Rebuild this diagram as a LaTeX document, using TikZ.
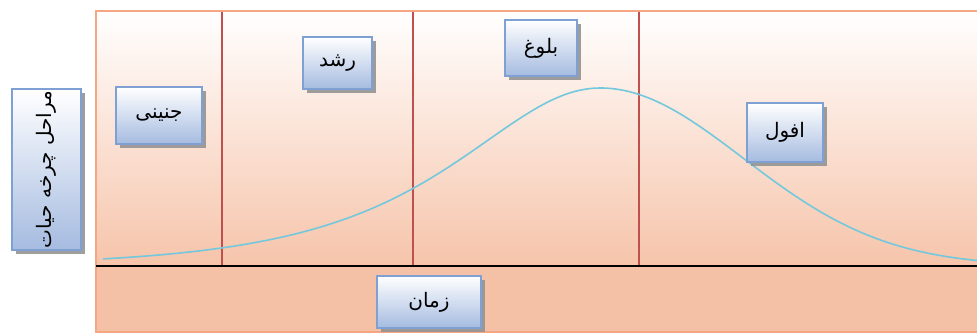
\documentclass[tikz,border=0pt]{standalone}
\usepackage{fontspec}
\usepackage{graphicx}
\TeXXeTstate=1
\newfontfamily\arabicfont[Script=Arabic]{DejaVu Sans}
\usetikzlibrary{shadows,positioning}
\definecolor{frameorange}{RGB}{244,167,130}
\definecolor{peachmid}{RGB}{251,233,223}
\definecolor{peachlow}{RGB}{246,196,170}
\definecolor{peachband}{RGB}{245,193,166}
\definecolor{stagered}{RGB}{192,80,77}
\definecolor{curveblue}{RGB}{116,200,221}
\definecolor{boxblue}{RGB}{127,160,210}
\definecolor{boxlow}{RGB}{165,187,224}

\begin{document}
\begin{tikzpicture}[x=1pt, y=-1pt,
  stagebox/.style={draw=boxblue, line width=2pt, rectangle, top color=white,
    bottom color=boxlow, inner sep=0pt, align=center,
    font=\arabicfont\fontsize{20}{24}\selectfont,
    drop shadow={shadow xshift=4pt, shadow yshift=-4pt, fill=gray!85, opacity=0.9}},
  divider/.style={stagered, line width=1.5pt},
  lifecurve/.style={curveblue, line width=1.6pt}
]
  \useasboundingbox (0,0) rectangle (977,335);

  % chart area
  \shade[top color=white, middle color=peachmid, bottom color=peachlow]
    (96,11) rectangle (980,266);
  \fill[peachband] (96,266) rectangle (980,332);
  \draw[frameorange, line width=2pt] (96,11) rectangle (980,332);

  % stage borders and time axis
  \foreach \xpos in {222,413,639}
    \draw[divider] (\xpos,12) -- (\xpos,266);
  \draw[black, line width=1.8pt] (96,266) -- (980,266);

  % life cycle curve
  \draw[lifecurve]
    plot[domain=103:600, samples=80, smooth] (\x, {266-178/cosh((\x-600)/127)})
    -- plot[domain=600:980, samples=80, smooth] (\x, {266-178*exp(-0.5*((\x-600)/143)^2)});

  % stage labels
  \node[stagebox, minimum width=69pt, minimum height=161pt] (stages) at (46.5,169.5)
    {\rotatebox{90}{\beginR مراحل چرخه حیات\endR}};
  \node[stagebox, minimum width=86pt, minimum height=57pt] (embryo) at (159,115.5)
    {\beginR جنینی\endR};
  \node[stagebox, minimum width=69pt, minimum height=52pt] (growth) at (337.5,63)
    {\beginR رشد\endR};
  \node[stagebox, minimum width=72pt, minimum height=56pt] (mature) at (541,48)
    {\beginR بلوغ\endR};
  \node[stagebox, minimum width=76pt, minimum height=59pt] (decline) at (785,132.5)
    {\beginR افول\endR};
  \node[stagebox, minimum width=104pt, minimum height=52pt] (time) at (429,302)
    {\beginR زمان\endR};
\end{tikzpicture}
\end{document}
